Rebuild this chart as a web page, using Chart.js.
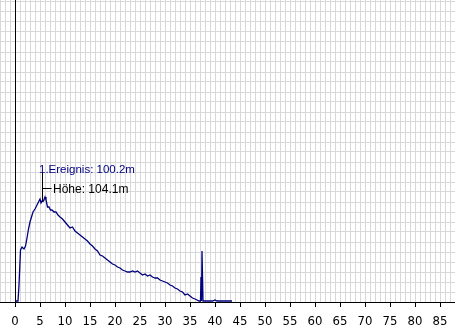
<!DOCTYPE html>
<html>
<head>
<meta charset="utf-8">
<script src="https://cdn.jsdelivr.net/npm/chart.js@4"></script>
<style>
  html, body { margin: 0; padding: 0; background: #fff; }
</style>
</head>
<body>
<canvas id="trace" width="455" height="326"></canvas>
<script>
// Trace
const distances = [
  0, 0.2, 0.6, 0.8, 1.1, 1.4, 1.8, 2.1, 2.4, 2.7, 3.0, 3.3, 3.6, 4.0, 4.4, 4.7,
  5.0, 5.2, 5.4, 5.7, 6.0, 6.2, 6.5, 6.8, 7.1, 7.4, 7.8, 8.2, 8.6, 9.0, 9.5,
  10.0, 10.5, 11.0, 11.5, 12.0, 12.5, 13.0, 13.5, 14.0, 14.5, 15.0, 15.5, 16.0,
  16.5, 17.0, 17.5, 18.0, 18.5, 19.0, 19.5, 20.0, 20.5, 21.0, 21.5, 22.0, 22.5,
  23.0, 23.5, 24.0, 24.5, 25.0, 25.5, 26.0, 26.5, 27.0, 27.5, 28.0, 28.5, 29.0,
  29.5, 30.0, 30.5, 31.0, 31.5, 32.0, 32.5, 33.0, 33.5, 34.0, 34.5, 35.0, 35.5,
  36.0, 36.4, 36.8, 37.1, 37.2, 37.3, 37.4, 37.6, 38.5, 39.5, 40.0, 40.4, 41.5,
  42.5, 43.4
];
const levels = [
  0.1, 0.1, 0.1, 1.7, 5.2, 5.5, 5.3, 5.6, 6.4, 7.3, 8.0, 8.5, 9.0, 9.3, 9.7, 10.0,
  10.3, 9.9, 10.1, 10.1, 10.5, 10.2, 9.5, 9.5, 9.2, 9.2, 9.0, 9.0, 8.7, 8.5, 8.3,
  8.0, 7.7, 7.4, 7.5, 7.1, 6.9, 6.7, 6.5, 6.3, 6.1, 5.8, 5.6, 5.3,
  5.1, 4.7, 4.6, 4.4, 4.2, 4.0, 3.8, 3.7, 3.5, 3.4, 3.2, 3.1, 3.0,
  3.0, 3.1, 3.0, 3.1, 2.9, 2.7, 2.8, 2.6, 2.7, 2.5, 2.4, 2.4, 2.2,
  2.1, 2.0, 1.9, 1.7, 1.6, 1.4, 1.3, 1.1, 1.0, 0.7, 0.8, 0.6, 0.4,
  0.3, 0.2, 0.1, 0.1, 2.5, 0.1, 5.1, 0.1, 0.1, 0.1, 0.2, 0.1, 0.1,
  0.1, 0.1
];
const xLabelStep = 5;

// Event marker
const eventX = 5.3;
const eventTop = 12.9;
const eventBottom = 10.0;
const heightLevel = 11.4;
const eventText = '1.Ereignis: 100.2m';
const heightText = 'Höhe: 104.1m';

// y axis drawn over the grid so the crossing grey lines don't break it
const zeroLine = {
  id: 'zeroLine',
  beforeDatasetsDraw(chart) {
    const { ctx, chartArea, scales: { x } } = chart;
    const px = Math.round(x.getPixelForValue(0)) + 0.5;
    ctx.save();
    ctx.strokeStyle = '#000';
    ctx.lineWidth = 1;
    ctx.beginPath();
    ctx.moveTo(px, chartArea.top);
    ctx.lineTo(px, chartArea.bottom + 5);
    ctx.stroke();
    ctx.restore();
  }
};

const markers = {
  id: 'markers',
  afterDatasetsDraw(chart) {
    const { ctx, scales: { x, y } } = chart;
    const px = Math.round(x.getPixelForValue(eventX)) + 0.5;
    const hy = Math.round(y.getPixelForValue(heightLevel)) + 0.5;
    ctx.save();
    ctx.strokeStyle = '#000';
    ctx.lineWidth = 1;
    ctx.beginPath();
    ctx.moveTo(px, y.getPixelForValue(eventTop));
    ctx.lineTo(px, y.getPixelForValue(eventBottom));
    ctx.moveTo(px, hy);
    ctx.lineTo(px + 9, hy);
    ctx.stroke();
    ctx.textBaseline = 'alphabetic';
    ctx.font = '11.5px "Liberation Sans", Arial, sans-serif';
    ctx.fillStyle = '#000080';
    ctx.fillText(eventText, px - 3.5, y.getPixelForValue(eventTop) - 0.5);
    ctx.font = '12px "Liberation Sans", Arial, sans-serif';
    ctx.fillStyle = '#000';
    ctx.fillText(heightText, px + 10.5, hy + 4.5);
    ctx.restore();
  }
};

new Chart(document.getElementById('trace'), {
  type: 'line',
  data: {
    datasets: [{
      data: distances.map((d, i) => ({ x: d, y: levels[i] })),
      borderColor: '#000080',
      borderWidth: 1.3,
      pointRadius: 0,
      pointHoverRadius: 0,
      tension: 0,
      fill: false
    }]
  },
  options: {
    responsive: false,
    animation: false,
    layout: { padding: 0, autoPadding: false },
    plugins: { legend: { display: false }, tooltip: { enabled: false } },
    scales: {
      x: {
        type: 'linear',
        min: -3,
        max: 88,
        afterFit: s => { s.height = 24; s.paddingLeft = 0; s.paddingRight = 0; },
        border: { color: '#000', width: 1 },
        grid: {
          color: '#d8d8d8',
          tickColor: c => (c.tick && c.tick.value >= 0 && c.tick.value % xLabelStep === 0 ? '#000' : 'rgba(0,0,0,0)'),
          tickLength: 5
        },
        ticks: {
          stepSize: 1,
          autoSkip: false,
          maxRotation: 0,
          padding: 7,
          color: '#000',
          font: { family: '"Liberation Sans Narrow", "DejaVu Sans Condensed", "Liberation Sans", sans-serif', size: 13 },
          callback: v => (v >= 0 && v % xLabelStep === 0 ? String(v) : '')
        }
      },
      y: {
        min: 0,
        max: 30.2,
        afterFit: s => { s.width = 0; },
        border: { display: false },
        grid: { color: '#d8d8d8', drawTicks: false },
        ticks: { display: false, stepSize: 1, includeBounds: false }
      }
    }
  },
  plugins: [zeroLine, markers]
});
</script>
</body>
</html>
